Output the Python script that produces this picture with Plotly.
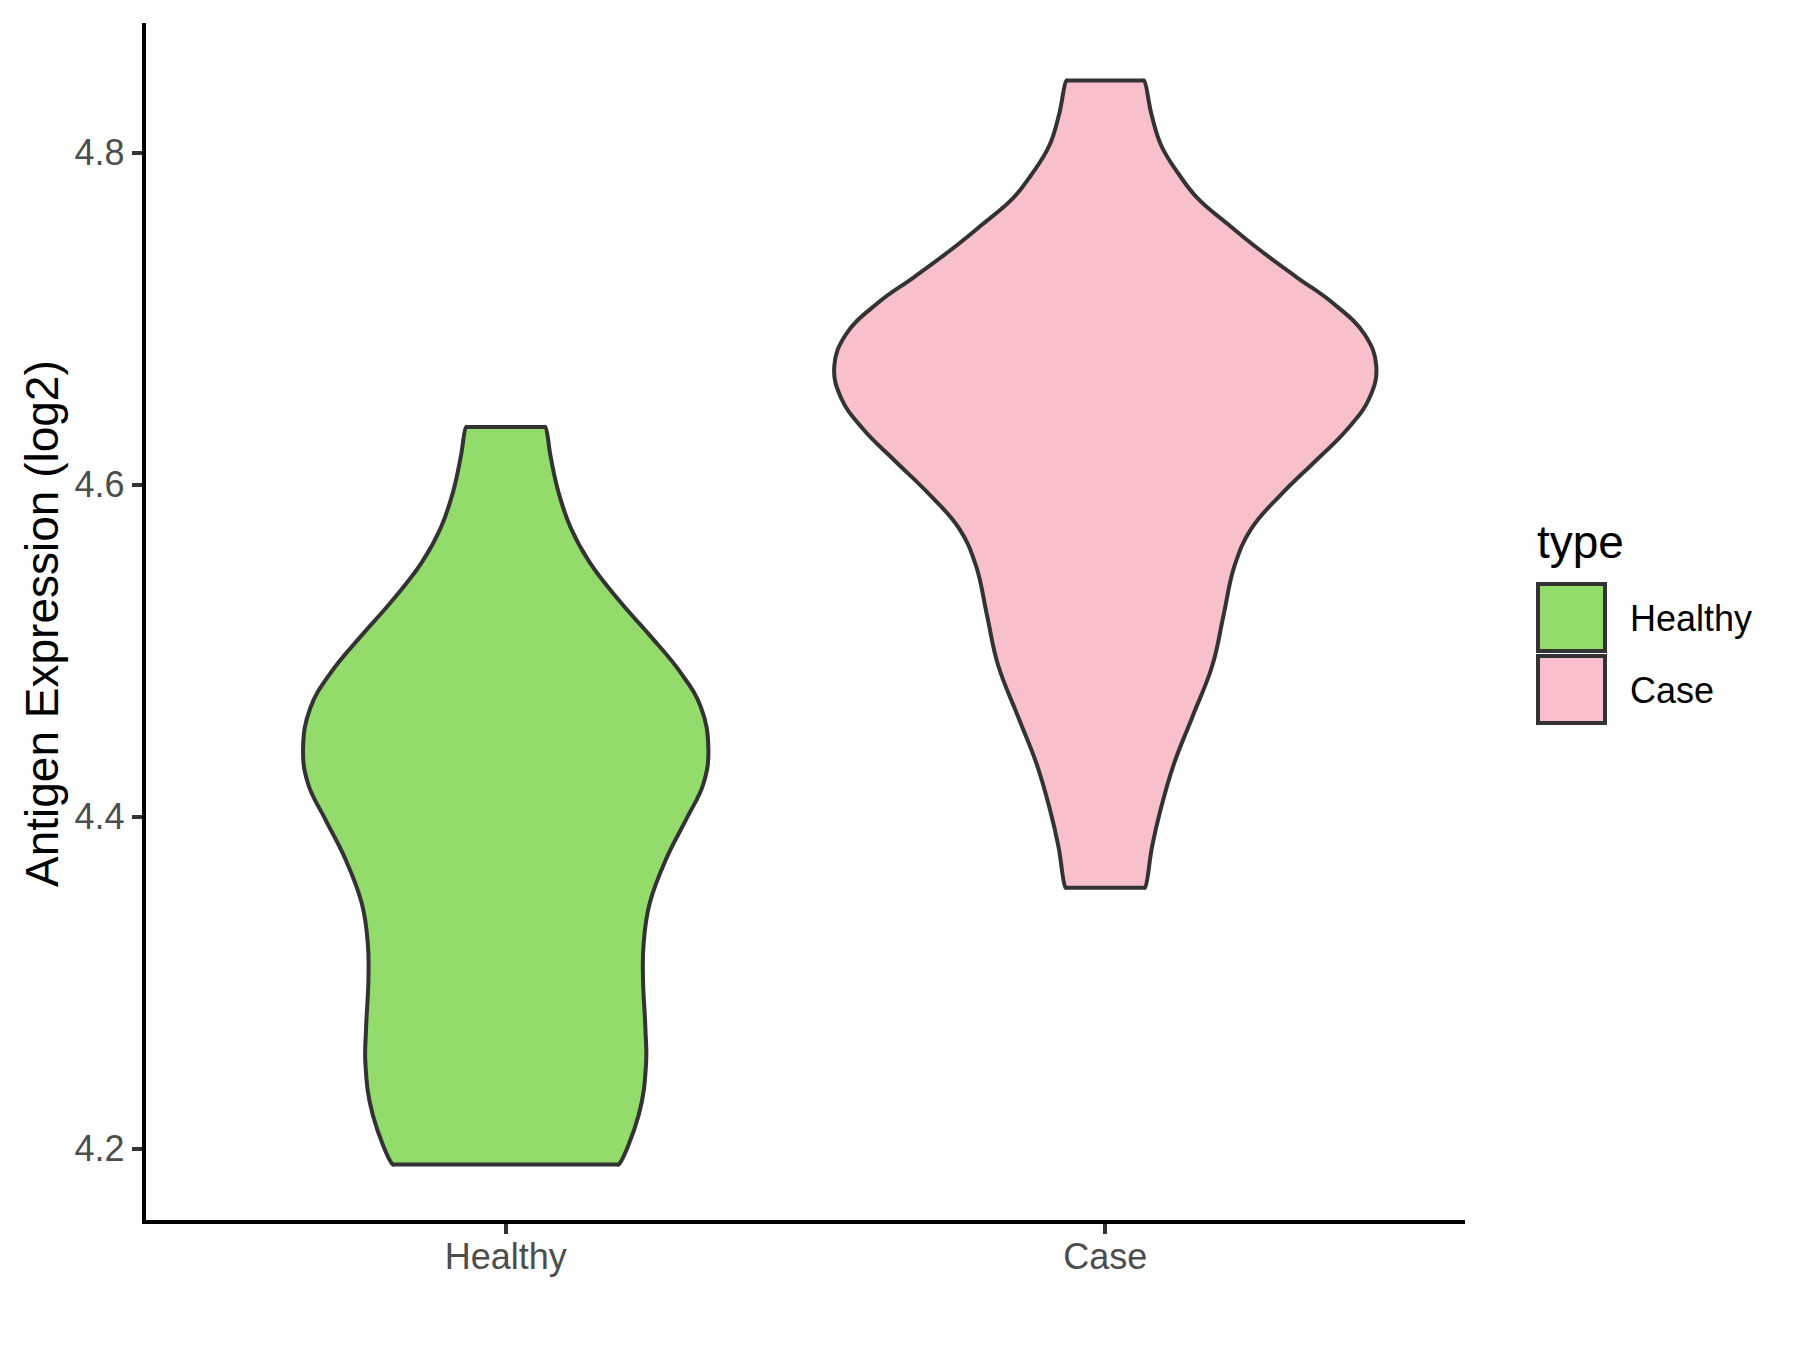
import plotly.graph_objects as go

# ---------------- data ----------------
categories = ["Healthy", "Case"]

# violin outlines: y level (log2 expression) and half-width (x-axis units), top -> bottom
healthy_y = [4.6347, 4.6166, 4.5954, 4.5743, 4.5531, 4.5289, 4.5093, 4.4866, 4.4654,
             4.4413, 4.4201, 4.3990, 4.3748, 4.3476, 4.3234, 4.3022, 4.2720, 4.2509,
             4.2206, 4.1904]
healthy_hw = [0.066, 0.075, 0.088, 0.108, 0.140, 0.192, 0.240, 0.292, 0.326,
              0.338, 0.330, 0.302, 0.268, 0.240, 0.230, 0.229, 0.233, 0.234,
              0.222, 0.188]

case_y = [4.8434, 4.8229, 4.8039, 4.7866, 4.7723, 4.7566, 4.7423, 4.7250, 4.7092,
          4.6902, 4.6713, 4.6524, 4.6334, 4.6145, 4.5939, 4.5734, 4.5513, 4.5213,
          4.4913, 4.4597, 4.4313, 4.4045, 4.3824, 4.3571]
case_hw = [0.0647, 0.0771, 0.0937, 0.1233, 0.1542, 0.2053, 0.2540, 0.3188, 0.3800,
           0.4330, 0.4520, 0.4410, 0.4040, 0.3515, 0.2930, 0.2436, 0.2158, 0.1973,
           0.1788, 0.1449, 0.1141, 0.0925, 0.0783, 0.0660]

y_ticks = [4.2, 4.4, 4.6, 4.8]
fill_colors = ["#93DB6B", "#F8C0CB"]
outline_color = "#333333"

# ---------------- layout constants (pixels) ----------------
W, H = 1800, 1350
L, R, T, B = 146, 1465, 23, 1220
PW, PH = R - L, B - T
EPS = 0.002  # tiny inset that keeps the flat violin ends sharp under spline smoothing


def px_x(p):
    return (p - L) / PW


def px_y(p):
    return (B - p) / PH


def violin_path(center, ys, hws):
    ys_up = list(reversed(ys))     # bottom -> top
    hw_up = list(reversed(hws))
    yb, yt = ys_up[0], ys_up[-1]
    hb, ht = hw_up[0], hw_up[-1]
    xs, yy = [center], [yb]
    xs += [center + hb - EPS]
    yy += [yb]
    xs += [center + h for h in hw_up]
    yy += ys_up
    xs += [center + ht - EPS, center - ht + EPS]
    yy += [yt, yt]
    xs += [center - h for h in reversed(hw_up)]
    yy += list(reversed(ys_up))
    xs += [center - hb + EPS, center]
    yy += [yb, yb]
    return xs, yy


fig = go.Figure()
groups = [(healthy_y, healthy_hw), (case_y, case_hw)]
for i, (cat, (ys, hws)) in enumerate(zip(categories, groups)):
    xs, yy = violin_path(i + 1, ys, hws)
    fig.add_trace(go.Scatter(
        x=xs, y=yy, mode="lines", fill="toself",
        fillcolor=fill_colors[i],
        line=dict(color=outline_color, width=4, shape="spline", smoothing=1.2),
        name=cat, showlegend=False, hoverinfo="skip",
    ))

FONT = "Liberation Sans, Arial, sans-serif"
TICK_SIZE = 36
TITLE_SIZE = 46

shapes = []
annotations = []

# manual legend (ggplot style)
annotations.append(dict(text="type", x=px_x(1535), y=px_y(542), xref="paper", yref="paper",
                        xanchor="left", yanchor="middle", showarrow=False,
                        font=dict(family=FONT, size=TITLE_SIZE, color="black")))
key_tops = [584, 656]
for i, cat in enumerate(categories):
    t = key_tops[i]
    shapes.append(dict(type="rect", xref="paper", yref="paper",
                       x0=px_x(1538), x1=px_x(1605), y0=px_y(t + 67), y1=px_y(t),
                       fillcolor=fill_colors[i], line=dict(color=outline_color, width=4)))
    annotations.append(dict(text=cat, x=px_x(1628), y=px_y(t + 34), xref="paper", yref="paper",
                            xanchor="left", yanchor="middle", showarrow=False,
                            font=dict(family=FONT, size=TICK_SIZE, color="black")))

# y-axis title
annotations.append(dict(text="Antigen Expression (log2)", x=px_x(42), y=px_y(624),
                        xref="paper", yref="paper", xanchor="center", yanchor="middle",
                        textangle=-90, showarrow=False,
                        font=dict(family=FONT, size=TITLE_SIZE, color="black")))

axis_common = dict(
    showgrid=False, zeroline=False,
    showline=True, linecolor="black", linewidth=4.3,
    ticks="outside", ticklen=10, tickwidth=4, tickcolor=outline_color,
    tickfont=dict(family=FONT, size=TICK_SIZE, color="#4D4D4D"),
    fixedrange=True,
)

fig.update_layout(
    width=W, height=H,
    margin=dict(l=L, r=W - R, t=T, b=H - B, pad=0),
    paper_bgcolor="white", plot_bgcolor="white",
    showlegend=False,
    shapes=shapes, annotations=annotations,
    font=dict(family=FONT),
    xaxis=dict(range=[0.4, 2.6], tickvals=[1, 2], ticktext=categories,
               ticklabelstandoff=-8, **axis_common),
    yaxis=dict(range=[4.157, 4.878], tickvals=y_ticks, tickformat=".1f",
               ticklabelstandoff=0, **axis_common),
)

fig.write_html("out.html", config={"displayModeBar": False},
               post_script="document.body.style.margin='0';")
